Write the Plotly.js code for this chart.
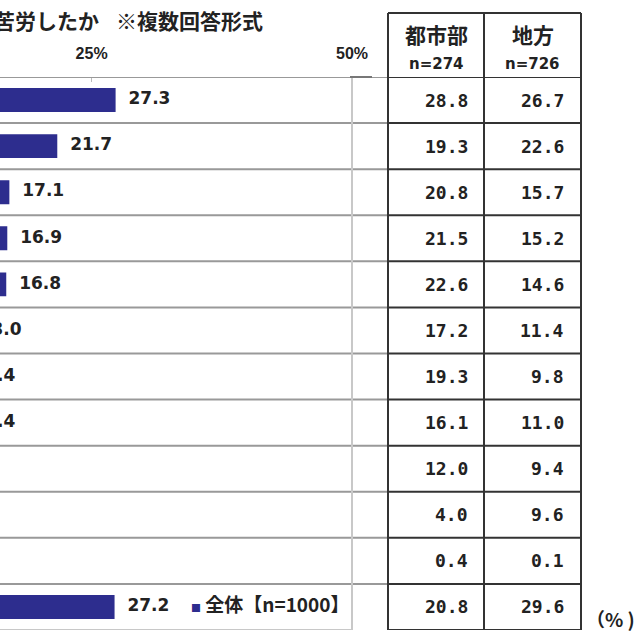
<!DOCTYPE html>
<html>
<head>
<meta charset="utf-8">
<script src="https://cdn.plot.ly/plotly-3.0.1.min.js"></script>
<style>html,body{margin:0;padding:0;background:#fff;}#chart{width:640px;height:640px;}</style>
</head>
<body>
<div id="chart"></div>
<script>
// Row positions (category labels are cut off in the reference)
const rows = [1, 2, 3, 4, 5, 6, 7, 8, 9, 10, 11, 12];
// 全体 [n=1000]
const overall = [27.3, 21.7, 17.1, 16.9, 16.8, 13.0, 12.4, 12.4, 10.1, 8.1, 0.2, 27.2];
// 都市部 [n=274]
const urban = [28.8, 19.3, 20.8, 21.5, 22.6, 17.2, 19.3, 16.1, 12.0, 4.0, 0.4, 20.8];
// 地方 [n=726]
const rural = [26.7, 22.6, 15.7, 15.2, 14.6, 11.4, 9.8, 11.0, 9.4, 9.6, 0.1, 29.6];
const tickVals = [25, 50];
const tickText = ['25%', '50%'];
const colHeaders = ['都市部', '地方'];
const colN = ['n=274', 'n=726'];
const legendName = '全体【n=1000】';
const titleA = '苦労したか';
const titleB = '※複数回答形式';

const W = 640, H = 640;
const px = v => v / W;
const py = v => 1 - v / H;
const plotRight = 352, tblL = 388, tblM = 484, tblR = 581, tblTop = 13, plotTop = 77, plotBot = 630;

const barColor = '#2d2d8e';
const numFont = {family: 'DejaVu Sans', size: 17, color: '#222'};
const cjk = 'Noto Sans CJK JP';

const traces = [
  {
    type: 'bar', orientation: 'h', x: overall, y: rows,
    width: 0.52, marker: {color: barColor}, cliponaxis: true,
    hoverinfo: 'skip', showlegend: false
  },
  {
    type: 'scatter', mode: 'markers+text', x: overall, y: rows,
    text: overall.map(v => '<b>' + v.toFixed(1) + '</b>'),
    textposition: 'middle right', textfont: numFont,
    marker: {size: 19, color: 'rgba(0,0,0,0)'}, cliponaxis: true,
    hoverinfo: 'skip', showlegend: false
  }
];

const shapes = [];
const gray = {color: '#999', width: 2};
const dark = {color: '#333', width: 2};
// chart row separators (gray) extending to the table
for (let k = 0; k < rows.length; k++) {
  shapes.push({type: 'line', xref: 'paper', yref: 'y', x0: 0, x1: px(tblL), y0: k + 0.5, y1: k + 0.5, line: gray});
}
// chart bottom border
shapes.push({type: 'line', xref: 'paper', yref: 'y', x0: 0, x1: px(plotRight), y0: rows.length + 0.5, y1: rows.length + 0.5, line: {color: '#c8c8c8', width: 2}});
// chart right border
shapes.push({type: 'line', xref: 'paper', yref: 'paper', x0: px(plotRight), x1: px(plotRight), y0: py(plotBot), y1: py(plotTop), line: {color: '#c8c8c8', width: 2}});
// short dark mark at the top right of the plot
shapes.push({type: 'line', xref: 'paper', yref: 'paper', x0: px(350), x1: px(372), y0: py(plotTop), y1: py(plotTop), line: {color: '#777', width: 2}});
// table row lines
for (let k = 0; k <= rows.length; k++) {
  shapes.push({type: 'line', xref: 'paper', yref: 'y', x0: px(tblL), x1: px(tblR), y0: k + 0.5, y1: k + 0.5, line: dark});
}
// table top
shapes.push({type: 'line', xref: 'paper', yref: 'paper', x0: px(tblL), x1: px(tblR), y0: py(tblTop), y1: py(tblTop), line: dark});
// table verticals
[tblL, tblM, tblR].forEach(x => {
  shapes.push({type: 'line', xref: 'paper', yref: 'paper', x0: px(x), x1: px(x), y0: py(plotBot), y1: py(tblTop), line: dark});
});

const annotations = [];
const tblFont = {family: 'DejaVu Sans Mono', size: 18, color: '#222'};
rows.forEach((r, i) => {
  annotations.push({xref: 'paper', yref: 'y', x: px(470), y: r, xanchor: 'right', yanchor: 'middle',
    text: '<b>' + urban[i].toFixed(1) + '</b>', showarrow: false, font: tblFont});
  annotations.push({xref: 'paper', yref: 'y', x: px(566), y: r, xanchor: 'right', yanchor: 'middle',
    text: '<b>' + rural[i].toFixed(1) + '</b>', showarrow: false, font: tblFont});
});
// table header
[(tblL + tblM) / 2, (tblM + tblR) / 2].forEach((cx, j) => {
  annotations.push({xref: 'paper', yref: 'paper', x: px(cx), y: py(34), xanchor: 'center', yanchor: 'middle',
    text: '<b>' + colHeaders[j] + '</b>', showarrow: false, font: {family: cjk, size: 21, color: '#222'}});
  annotations.push({xref: 'paper', yref: 'paper', x: px(cx), y: py(64), xanchor: 'center', yanchor: 'middle',
    text: '<b>' + colN[j] + '</b>', showarrow: false, font: {family: 'DejaVu Sans', size: 15, color: '#222'}});
});
// title
annotations.push({xref: 'paper', yref: 'paper', x: px(101), y: py(20), xanchor: 'right', yanchor: 'middle',
  text: '<b>' + titleA + '</b>', showarrow: false, font: {family: cjk, size: 21, color: '#222'}});
annotations.push({xref: 'paper', yref: 'paper', x: px(114), y: py(20), xanchor: 'left', yanchor: 'middle',
  text: '<b>' + titleB + '</b>', showarrow: false, font: {family: cjk, size: 21, color: '#222'}});
// legend
annotations.push({xref: 'paper', yref: 'y', x: px(189), y: rows[rows.length - 1] - 0.08, xanchor: 'left', yanchor: 'middle',
  text: '<span style="color:' + barColor + ';font-size:10px">■</span> <b>' + legendName + '</b>',
  showarrow: false, font: {family: cjk, size: 19, color: '#222'}});
// unit
annotations.push({xref: 'paper', yref: 'paper', x: px(637), y: py(618), xanchor: 'right', yanchor: 'middle',
  text: '<b>（% )</b>', showarrow: false, font: {family: cjk, size: 19, color: '#222'}});

const layout = {
  width: W, height: H,
  margin: {l: 0, r: 0, t: 0, b: 0, pad: 0},
  paper_bgcolor: '#fff', plot_bgcolor: 'rgba(0,0,0,0)',
  showlegend: false,
  xaxis: {
    domain: [0, px(plotRight)], range: [16.2, 50], side: 'top',
    tickvals: tickVals, ticktext: tickText.map(t => '<b>' + t + '</b>'),
    tickfont: {family: 'Liberation Sans', size: 16, color: '#222'},
    ticks: 'inside', ticklen: 5, tickcolor: '#bbb', tickwidth: 1,
    ticklabelstandoff: 14,
    showgrid: false, zeroline: false, showline: false, fixedrange: true
  },
  yaxis: {
    domain: [py(plotBot), py(plotTop)], range: [rows.length + 0.5, 0.5],
    showticklabels: false, ticks: '', showgrid: false, zeroline: false, showline: false, fixedrange: true
  },
  shapes: shapes,
  annotations: annotations
};

Plotly.newPlot('chart', traces, layout, {displayModeBar: false, staticPlot: true});
</script>
</body>
</html>
